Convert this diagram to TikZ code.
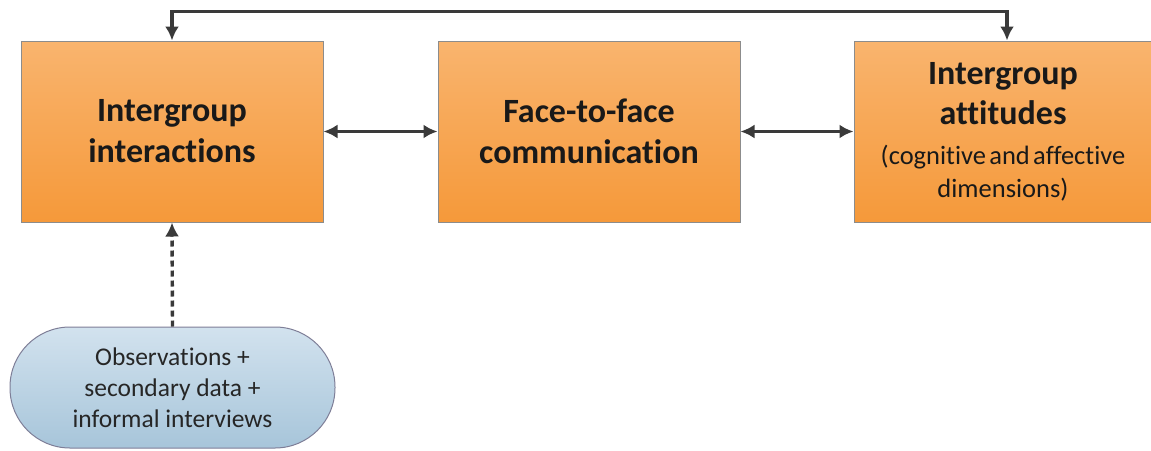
\documentclass[tikz,border=0pt]{standalone}
\usepackage{fontspec}
\setmainfont{Carlito}[Ligatures=NoCommon]
\usetikzlibrary{arrows.meta}
\definecolor{orTop}{HTML}{F9B46E}
\definecolor{orBot}{HTML}{F5993A}
\definecolor{blTop}{HTML}{D2E2EE}
\definecolor{blBot}{HTML}{A7C5DA}
\definecolor{edgeG}{HTML}{8C8C8C}
\definecolor{arr}{HTML}{3A3A3A}
\tikzset{
  obox/.style={draw=edgeG, line width=1pt, top color=orTop, bottom color=orBot,
    minimum height=181pt, inner sep=0pt, align=center, text=black!90},
  pill/.style={draw=edgeG!90!blue, line width=1pt, top color=blTop, bottom color=blBot,
    rounded corners=60pt, minimum width=325pt, minimum height=121pt, inner sep=0pt,
    align=center, text=black!85},
  conn/.style={draw=arr, line width=3.4pt, {Latex[length=14pt,width=14pt]}-{Latex[length=14pt,width=14pt]}},
  dconn/.style={draw=arr, line width=3.4pt, dash pattern=on 6pt off 4pt, -{Latex[length=14pt,width=14pt]}},
  big/.style={font=\fontsize{34}{41}\selectfont\bfseries},
}
\begin{document}
\begin{tikzpicture}[x=1pt, y=-1pt]
\useasboundingbox (0,0) rectangle (1151,450);
\node[obox, minimum width=302pt, big] (a) at (172,131.5) {Intergroup\\interactions};
\node[obox, minimum width=302pt, big] (b) at (589,131.5) {Face-to-face\\communication};
\node[obox, minimum width=298pt, text width=294pt] (c) at (1003,131.5)
  {\fontsize{34}{40}\selectfont\bfseries Intergroup\\attitudes\par
   \vspace{7pt}\fontsize{26.5}{33}\selectfont\mdseries (cognitive and affective\\dimensions)\par};
\node[pill, font=\fontsize{25.5}{31}\selectfont] (d) at (172.5,387.5)
  {Observations +\\secondary data +\\informal interviews};
\draw[conn] (a.east) -- (b.west);
\draw[conn] (b.east) -- (c.west);
\draw[conn] (a.north) -- ++(0,-29) coordinate (t1) -| ([xshift=4pt]c.north);
\draw[dconn] (d.north) -- (a.south);
\end{tikzpicture}
\end{document}
